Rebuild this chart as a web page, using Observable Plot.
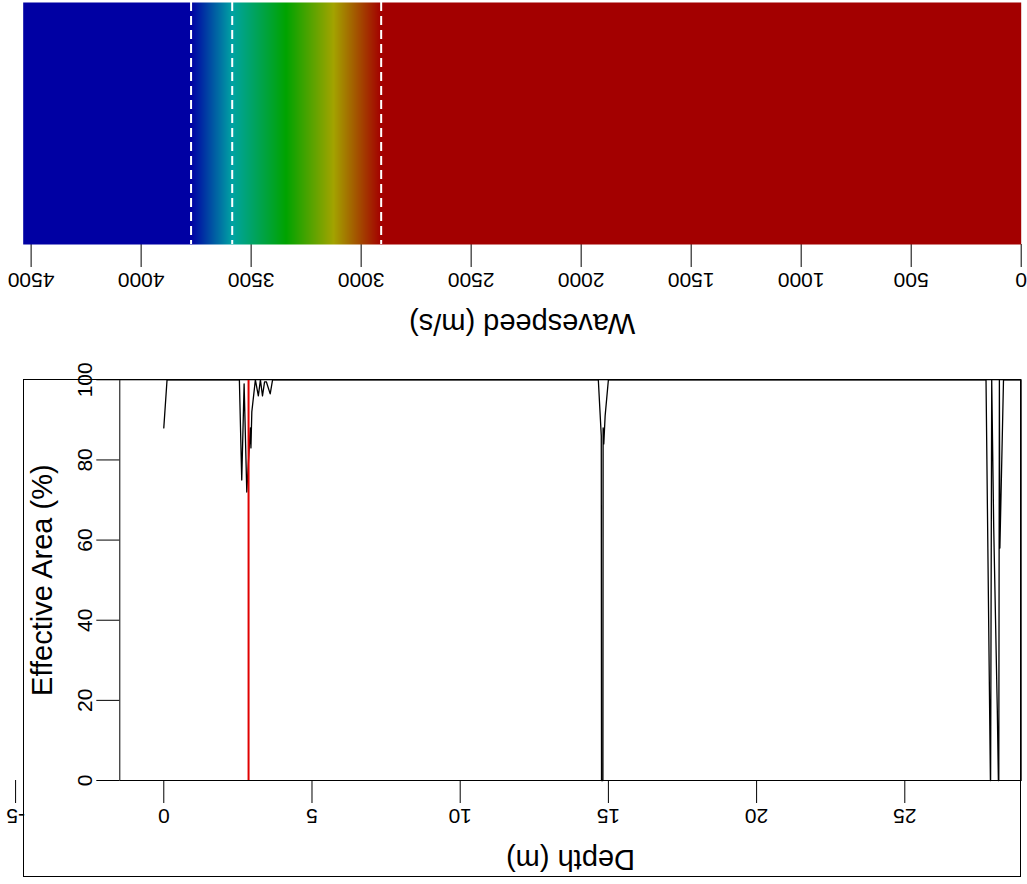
<!DOCTYPE html>
<html>
<head>
<meta charset="utf-8">
<script src="https://cdn.jsdelivr.net/npm/d3@7"></script>
<script src="https://cdn.jsdelivr.net/npm/@observablehq/plot@0.6"></script>
<style>
  html, body { margin: 0; padding: 0; background: #fff; overflow: hidden; }
  #wrap { position: relative; width: 1027px; height: 884px; overflow: hidden; font-family: "Liberation Sans", Arial, sans-serif; }
  #top { position: absolute; left: 0; top: 0; }
  #bottom { position: absolute; left: 0; top: 345px; }
  #box { position: absolute; left: 23px; top: 379px; width: 998px; height: 498px; border: 1px solid #000; box-sizing: border-box; pointer-events: none; }
  svg { display: block; }
</style>
</head>
<body>
<div id="wrap">
  <div id="top"></div>
  <div id="bottom"></div>
  <div id="box"></div>
</div>
<script>
// ---- Top panel: wavespeed colour bar ----
const wavespeedTicks = [4500, 4000, 3500, 3000, 2500, 2000, 1500, 1000, 500, 0];
const wavespeedLimits = [4536, 0];
const colourStops = [2909, 3125, 3341, 3586, 3773];
const colourRamp = ["#a30000", "#a3a300", "#00a300", "#00a3a3", "#0000a3"];
const dashedSpeeds = [3773, 3586, 2909];
const wavespeedLabel = ["Wavespeed (m/s)"];

// ---- Bottom panel: effective area vs depth ----
const depthTicks = [-5, 0, 5, 10, 15, 20, 25];
const areaTicks = [0, 20, 40, 60, 80, 100];
const depthLimits = [-1.484, 28.927];
const depth = [0, 0.11, 2.42, 2.55, 2.63, 2.71, 2.80, 2.92, 2.94, 2.97, 3.09, 3.19, 3.26, 3.33, 3.40, 3.46, 3.59, 3.67,
  14.66, 14.76, 14.768, 14.815, 14.822, 14.845, 14.89, 15.00,
  27.74, 27.888, 27.895, 27.932, 28.00, 28.12, 28.157, 28.171, 28.191, 28.208, 28.33, 28.90];
const effectiveArea = [88, 100, 100, 100, 75, 99, 72, 88, 83, 92, 100, 96, 100, 96, 99.5, 99.5, 96.5, 100,
  100, 86, 0, 0, 88, 84, 91, 100,
  100, 0, 0, 100, 63, 18, 0, 0, 100, 58, 100, 100];
const markerDepth = [2.86];
const depthLabel = ["Depth (m)"];
const areaLabel = ["Effective Area (%)"];

const curve = depth.map((d, i) => ({depth: d, area: effectiveArea[i]}));

const baseStyle = {
  background: "transparent",
  fontFamily: "'Liberation Sans', Arial, sans-serif",
  color: "black",
  overflow: "visible"
};
const centred = {textAnchor: "middle", lineAnchor: "middle", fill: "black"};

const topPlot = Plot.plot({
  width: 1027,
  height: 345,
  marginLeft: 22.7,
  marginRight: 6.3,
  marginTop: 2,
  marginBottom: 101,
  style: baseStyle,
  x: {domain: wavespeedLimits, ticks: wavespeedTicks, tickSize: 23, tickFormat: () => "", label: null},
  y: {domain: [0, 1], axis: null},
  color: {type: "linear", domain: colourStops, range: colourRamp, interpolate: "rgb", clamp: true},
  marks: [
    Plot.raster({fill: (x, y) => x, x1: wavespeedLimits[0], x2: wavespeedLimits[1], y1: 0, y2: 1, width: 998, height: 1, imageRendering: "auto"}),
    Plot.ruleX(dashedSpeeds, {x: d => d, stroke: "white", strokeWidth: 2, strokeDasharray: "9,5"}),
    Plot.text(wavespeedTicks, {x: d => d, text: d => String(d), frameAnchor: "bottom", dy: 35.5, rotate: 180, fontSize: 21, ...centred}),
    Plot.text(wavespeedLabel, {text: d => d, frameAnchor: "bottom", dy: 78.5, rotate: 180, fontSize: 29, ...centred})
  ]
});
document.getElementById("top").appendChild(topPlot);

const bottomPlot = Plot.plot({
  width: 1027,
  height: 539,
  marginLeft: 119.3,
  marginRight: 6.3,
  marginTop: 34.3,
  marginBottom: 104,
  style: baseStyle,
  x: {domain: depthLimits, ticks: depthTicks, tickSize: 23, tickFormat: () => "", label: null},
  y: {domain: [0, 100], ticks: areaTicks, tickSize: 23, tickFormat: () => "", label: null},
  marks: [
    Plot.frame({stroke: "black"}),
    Plot.line(curve, {x: "depth", y: "area", stroke: "black", strokeWidth: 1.3}),
    Plot.ruleX(markerDepth, {x: d => d, stroke: "#e00000", strokeWidth: 2}),
    Plot.text(depthTicks, {x: d => d, text: d => String(d), frameAnchor: "bottom", dy: 35.5, rotate: 180, fontSize: 21, ...centred}),
    Plot.text(areaTicks, {y: d => d, text: d => String(d), frameAnchor: "left", dx: -35, rotate: -90, fontSize: 21, ...centred}),
    Plot.text(depthLabel, {text: d => d, frameAnchor: "bottom", dy: 79, rotate: 180, fontSize: 29, ...centred}),
    Plot.text(areaLabel, {text: d => d, frameAnchor: "left", dx: -77, rotate: -90, fontSize: 29, ...centred})
  ]
});
document.getElementById("bottom").appendChild(bottomPlot);
</script>
</body>
</html>
